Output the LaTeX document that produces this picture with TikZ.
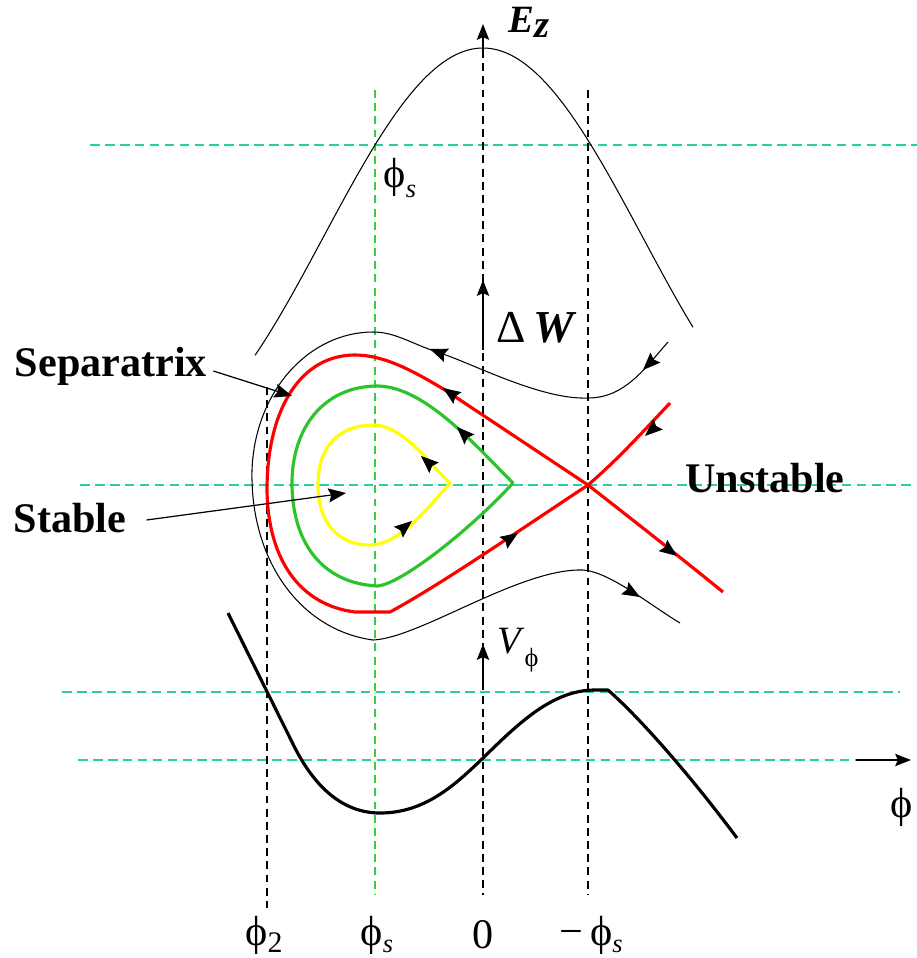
\documentclass[tikz,border=0pt]{standalone}
\usepackage{fontspec}
\setmainfont{Liberation Serif}
\usetikzlibrary{arrows.meta}
\definecolor{tealdash}{RGB}{40,208,160}
\definecolor{vgreen}{RGB}{60,205,60}
\definecolor{cgreen}{RGB}{45,195,45}
\definecolor{cyell}{RGB}{255,255,0}
\tikzset{
  hdash/.style={tealdash, line width=0.8pt, dash pattern=on 5.5pt off 3pt},
  vdash/.style={black, line width=0.7pt, dash pattern=on 4.5pt off 3pt},
  gdash/.style={vgreen, line width=0.7pt, dash pattern=on 4.5pt off 3pt},
  thinline/.style={black, line width=0.6pt},
  thick3/.style={line width=1.8pt, line join=round},
  tipmark/.style={-{Stealth[length=10pt,width=8pt,inset=1.5pt]}, black, line width=0.5pt},
  axarrow/.style={-{Stealth[length=9pt,width=7pt,inset=1.5pt]}, black, line width=0.8pt},
  boldlbl/.style={font=\fontsize{24}{28}\selectfont\bfseries, inner sep=0pt},
  symlbl/.style={font=\fontsize{24}{28}\selectfont, inner sep=0pt},
}
\begin{document}
\begin{tikzpicture}[x=0.02cm,y=-0.02cm]
\useasboundingbox (0,0) rectangle (917,958);
% horizontal teal dashed lines
\draw[hdash] (90,145) -- (917,145);
\draw[hdash] (80,485) -- (913,485);
\draw[hdash] (62,692) -- (900,692);
\draw[hdash] (78,760) -- (856,760);
% vertical dashed lines
\draw[vdash] (267,387) -- (267,908);
\draw[gdash] (375,90) -- (375,895);
\draw[vdash] (483,50) -- (483,895);
\draw[vdash] (588,90) -- (588,895);
% axes arrows
\coordinate (ezb) at (483,50);  \coordinate (ezt) at (483,24);
\coordinate (dwb) at (483,350); \coordinate (dwt) at (483,280);
\coordinate (vpb) at (483,688); \coordinate (vpt) at (483,644);
\coordinate (phb) at (856,760); \coordinate (pht) at (911,760);
\draw[axarrow] (ezb) -- (ezt);
\draw[axarrow] (dwb) -- (dwt);
\draw[axarrow] (vpb) -- (vpt);
\draw[axarrow] (phb) -- (pht);
% E_z curve
\draw[thinline] plot[domain=255:693, samples=90, smooth] (\x, {48+190*(1-cos(0.562*(\x-483)))});
% V_phi curve
\draw[black, line width=1.8pt, line join=round]
  (228,613) -- (292,742) .. controls (315,790) and (345,813) .. (380,813)
  .. controls (425,813) and (455,785) .. (483,758)
  .. controls (518,724) and (552,690) .. (595,690) -- (608,690)
  .. controls (640,718) and (690,775) .. (737,838);
% outer black trajectories
\draw[thinline] (668,342) .. controls (645,368) and (625,398) .. (588,398)
  .. controls (540,400) and (470,362) .. (437,352)
  .. controls (410,343) and (395,332) .. (373,332)
  .. controls (310,332) and (255,390) .. (252,470)
  .. controls (250,560) and (300,630) .. (373,640)
  .. controls (420,638) and (520,568) .. (583,570)
  .. controls (610,572) and (650,605) .. (680,623);
% separatrix
\draw[red, thick3] (588,485) .. controls (520,530) and (440,585) .. (390,612) -- (355,612)
  .. controls (300,605) and (268,560) .. (267,490)
  .. controls (267,410) and (300,355) .. (355,355)
  .. controls (385,355) and (415,372) .. (445,390) -- (588,485);
\draw[red, thick3] (670,403) .. controls (640,435) and (615,462) .. (588,485);
\draw[red, thick3] (588,485) .. controls (620,510) and (665,545) .. (723,592);
% green trajectory
\draw[cgreen, thick3] (513,483) .. controls (475,445) and (425,387) .. (378,386)
  .. controls (322,386) and (292,430) .. (292,483)
  .. controls (292,540) and (320,583) .. (377,586)
  .. controls (400,585) and (470,530) .. (513,483) -- cycle;
% yellow trajectory
\draw[cyell, thick3] (450,483) .. controls (430,465) and (405,427) .. (375,425)
  .. controls (335,425) and (318,450) .. (318,485)
  .. controls (318,525) and (340,545) .. (370,545)
  .. controls (400,545) and (430,505) .. (450,483) -- cycle;
% arrowheads on trajectories
\draw[tipmark] (456,397) -- (443,388);
\draw[tipmark] (506,541) -- (518,533);
\draw[tipmark] (655,427) -- (645,436);
\draw[tipmark] (665,547) -- (677,556);
\draw[tipmark] (466,436) -- (457,427);
\draw[tipmark] (431,465) -- (421,456);
\draw[tipmark] (401,530) -- (412,521);
\draw[tipmark] (443,354) -- (430,349);
\draw[tipmark] (653,360) -- (643,370);
\draw[tipmark] (628,590) -- (640,597);
% labels
\node[inner sep=0pt, font=\fontsize{22}{26}\selectfont\bfseries\itshape] (ez) at (529,22) {E\raisebox{-0.3ex}{z}};
\node[symlbl] (phis1) at (400,178) {ϕ\raisebox{-0.5ex}{\fontsize{15}{17}\selectfont\itshape s}};
\node[inner sep=0pt, font=\fontsize{26}{30}\selectfont] (dw) at (537,328) {Δ\,\textbf{\textit{W}}};
\node[inner sep=0pt, font=\fontsize{22}{26}\selectfont] (vphi) at (518,650) {\textit{V}\raisebox{-0.7ex}{\fontsize{15}{17}\selectfont ϕ}};
\node[boldlbl] (sep) at (111,366) {Separatrix};
\node[boldlbl] (stab) at (70,518) {Stable};
\node[boldlbl] (unst) at (765,478) {Unstable};
\node[symlbl] (phiax) at (902,807) {ϕ};
\node[symlbl] (b1) at (264,935) {ϕ\raisebox{-0.4ex}{\fontsize{17}{19}\selectfont 2}};
\node[symlbl] (b2) at (377,935) {ϕ\raisebox{-0.4ex}{\fontsize{15}{17}\selectfont\itshape s}};
\node[symlbl] (b3) at (483,935) {0};
\node[symlbl] (b4) at (591,935) {−\,ϕ\raisebox{-0.4ex}{\fontsize{15}{17}\selectfont\itshape s}};
% label pointers
\coordinate (septip) at (292,396);
\coordinate (stabtip) at (346,493);
\draw[tipmark, line width=0.7pt] (sep.east) ++(6,5) -- (septip);
\draw[tipmark, line width=0.7pt] (stab.east) ++(20,2) -- (stabtip);
\end{tikzpicture}
\end{document}
